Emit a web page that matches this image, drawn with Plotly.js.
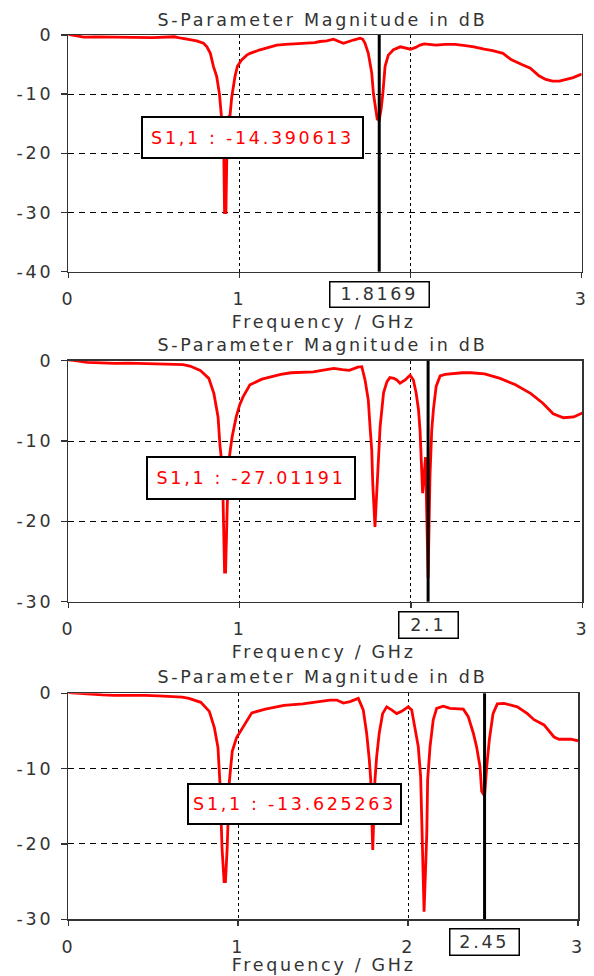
<!DOCTYPE html>
<html><head><meta charset="utf-8">
<script src="https://cdn.plot.ly/plotly-3.0.1.min.js"></script>
<style>
html,body{margin:0;padding:0;background:#fff;}
#chart{width:594px;height:976px;}
#chart svg text{letter-spacing:2.7px;}
</style></head><body><div id="chart"></div>
<script>
// ---- data ----
const freq1 = [0,0.03,0.09,0.17,0.27,0.38,0.49,0.56,0.62,0.66,0.71,0.75,0.79,0.81,0.83,0.848,0.867,0.883,0.895,0.906,0.913,0.921,0.93,0.945,0.955,0.974,0.988,1.013,1.043,1.062,1.12,1.17,1.218,1.27,1.315,1.393,1.44,1.471,1.51,1.549,1.607,1.666,1.705,1.72,1.734,1.753,1.773,1.783,1.793,1.805,1.8169,1.828,1.838,1.851,1.87,1.9,1.94,1.97,2.0,2.03,2.055,2.08,2.15,2.2,2.26,2.32,2.37,2.43,2.48,2.54,2.59,2.65,2.7,2.75,2.79,2.83,2.87,2.91,2.95,3.0];
const s11_1 = [0.1,-0.05,-0.35,-0.3,-0.3,-0.4,-0.45,-0.35,-0.3,-0.55,-0.8,-1.0,-1.4,-2.0,-3.1,-5.3,-7.0,-9.9,-13.8,-14.0,-30,-30,-14,-13.6,-10.5,-7.0,-5.3,-4.2,-3.4,-3.1,-2.5,-2.1,-1.7,-1.6,-1.5,-1.3,-1.3,-1.1,-1.0,-0.7,-1.4,-0.85,-0.55,-0.7,-1.4,-3.1,-6.4,-9.9,-12.2,-14.2,-14.390613,-12.5,-9.9,-5.3,-3.4,-2.5,-2.0,-2.2,-2.4,-2.1,-1.7,-1.5,-1.7,-1.6,-1.6,-1.8,-2.0,-2.4,-2.65,-3.1,-4.2,-5.0,-5.6,-6.9,-7.5,-7.8,-7.8,-7.5,-7.2,-6.6];

const freq2 = [0,0.03,0.11,0.2,0.27,0.35,0.44,0.53,0.62,0.67,0.71,0.77,0.82,0.85,0.874,0.885,0.895,0.903,0.912,0.918,0.928,0.94,0.956,0.98,1.0,1.02,1.06,1.13,1.18,1.24,1.3,1.37,1.43,1.48,1.55,1.6,1.64,1.69,1.713,1.732,1.751,1.761,1.771,1.777,1.79,1.808,1.82,1.84,1.86,1.877,1.9,1.917,1.936,1.966,1.995,2.014,2.03,2.044,2.053,2.068,2.085,2.1,2.111,2.121,2.131,2.147,2.17,2.2,2.25,2.3,2.35,2.43,2.52,2.61,2.7,2.77,2.83,2.89,2.95,3.0];
const s11_2 = [0.1,0.05,-0.2,-0.3,-0.33,-0.3,-0.33,-0.4,-0.45,-0.5,-0.66,-1.2,-2.2,-4.1,-7.0,-10.5,-12.5,-17.0,-26.3,-26.3,-17.8,-12.0,-9.5,-7.0,-5.5,-4.5,-3.0,-2.3,-2.0,-1.7,-1.5,-1.4,-1.4,-1.2,-0.95,-1.1,-1.2,-0.8,-0.75,-2.4,-4.9,-8.2,-11.1,-15.3,-20.7,-13.2,-8.2,-4.0,-2.6,-2.1,-2.2,-2.4,-2.8,-2.4,-1.8,-2.4,-4.0,-6.1,-8.7,-16.5,-12.0,-27.01191,-14.4,-8.7,-6.1,-3.2,-1.9,-1.7,-1.6,-1.5,-1.5,-1.65,-2.2,-3.0,-4.1,-5.3,-6.6,-7.1,-7.0,-6.5];

const freq3 = [0,0.03,0.11,0.2,0.27,0.36,0.45,0.53,0.62,0.67,0.71,0.78,0.83,0.86,0.881,0.892,0.905,0.917,0.925,0.935,0.948,0.965,0.99,1.03,1.08,1.16,1.27,1.38,1.49,1.54,1.58,1.619,1.658,1.707,1.736,1.756,1.772,1.78,1.792,1.805,1.815,1.83,1.85,1.874,1.903,1.933,1.962,2.001,2.021,2.04,2.06,2.074,2.082,2.094,2.11,2.115,2.129,2.148,2.168,2.207,2.247,2.325,2.354,2.384,2.403,2.423,2.433,2.45,2.463,2.478,2.5,2.525,2.564,2.643,2.702,2.741,2.8,2.859,2.888,2.957,3.0];
const s11_3 = [0.1,0.05,-0.13,-0.2,-0.27,-0.25,-0.27,-0.35,-0.45,-0.5,-0.67,-1.2,-2.4,-4.6,-7.2,-11.7,-20.6,-25.0,-25.0,-20.6,-11.7,-7.7,-5.9,-4.4,-2.6,-2.1,-1.6,-1.4,-1.1,-0.9,-0.9,-1.3,-1.1,-0.67,-2.2,-5.3,-8.9,-11.5,-20.8,-11.5,-8.4,-5.3,-2.7,-1.8,-2.2,-2.7,-2.4,-1.8,-2.2,-4.4,-7.1,-11.1,-17.5,-29.0,-18.6,-11.5,-7.1,-3.5,-2.0,-1.7,-2.0,-2.1,-3.1,-5.3,-7.1,-9.7,-13.0,-13.625263,-9.7,-6.2,-2.7,-1.4,-1.33,-1.8,-2.7,-3.5,-4.2,-5.8,-6.1,-6.1,-6.3];

const markerFreqs = [1.8169, 2.1, 2.45];
const markerFreqLabels = ['1.8169', '2.1', '2.45'];
const markerReadouts = ['S1,1 : -14.390613', 'S1,1 : -27.01191', 'S1,1 : -13.625263'];
const xTickVals = [0, 1, 2, 3];
const xTickText12 = ['0', '1', '', '3'];
const xTickText3 = ['0', '1', '2', '3'];
const yTickVals1 = [0, -10, -20, -30, -40];
const yTickText1 = ['0', '-10', '-20', '-30', '-40'];
const yTickVals23 = [0, -10, -20, -30];
const yTickText23 = ['0', '-10', '-20', '-30'];
const chartTitle = 'S-Parameter Magnitude in dB';
const xTitle = 'Frequency / GHz';

// ---- styling ----
const W = 594, H = 976;
const FONT = 'DejaVu Sans, Verdana, sans-serif';
const TXT = '#333';
const FS = 17.5;
const px = v => v / W;
const py = v => 1 - v / H;

function xAxis(domain, anchor, ticktext) {
  return {domain: domain, anchor: anchor, range: [0, 3], tickvals: xTickVals, ticktext: ticktext,
    showgrid: true, gridcolor: '#000', gridwidth: 1, griddash: '3px,3px', zeroline: false,
    showline: true, mirror: true, linecolor: '#333', linewidth: 1.5,
    ticks: 'outside', ticklen: 5, tickwidth: 1.5, tickcolor: '#333', ticklabelstandoff: 6,
    tickfont: {family: FONT, size: FS, color: TXT}, fixedrange: true, automargin: false};
}
function yAxis(domain, anchor, range, vals, text) {
  return {domain: domain, anchor: anchor, range: range, tickvals: vals, ticktext: text,
    showgrid: true, gridcolor: '#000', gridwidth: 1, griddash: '6px,5px', zeroline: false,
    showline: true, mirror: true, linecolor: '#333', linewidth: 1.5,
    ticks: 'outside', ticklen: 6, tickwidth: 1.5, tickcolor: '#333', ticklabelstandoff: 4,
    tickfont: {family: FONT, size: FS, color: TXT}, fixedrange: true, automargin: false};
}

const panels = [
  {xd: [px(68.3), px(581.7)], yd: [py(271.7), py(35)], title: 20, xt: 322, boxC: [252.5, 137.5], boxWH: [221, 41], mY: 294.5, mW: [99, 25]},
  {xd: [px(68.3), px(582.3)], yd: [py(601.7), py(360.7)], title: 345, xt: 652, boxC: [251, 478], boxWH: [208, 42], mY: 625, mW: [59, 26]},
  {xd: [px(68.3), px(578)], yd: [py(919.3), py(693.3)], title: 677, xt: 965, boxC: [294, 804], boxWH: [213, 40], mY: 942, mW: [69, 26]}
];

const series = [[freq1, s11_1], [freq2, s11_2], [freq3, s11_3]];
const data = series.map((s, i) => ({
  x: s[0], y: s[1], type: 'scatter', mode: 'lines',
  xaxis: i === 0 ? 'x' : 'x' + (i + 1), yaxis: i === 0 ? 'y' : 'y' + (i + 1),
  line: {color: '#ff0000', width: 2.8}, hoverinfo: 'skip', showlegend: false
}));

const layout = {
  width: W, height: H, margin: {l: 0, r: 0, t: 0, b: 0},
  paper_bgcolor: '#fff', plot_bgcolor: '#fff', showlegend: false,
  font: {family: FONT, size: FS, color: TXT},
  xaxis: xAxis(panels[0].xd, 'y', xTickText12),
  yaxis: yAxis(panels[0].yd, 'x', [-40, 0], yTickVals1, yTickText1),
  xaxis2: xAxis(panels[1].xd, 'y2', xTickText12),
  yaxis2: yAxis(panels[1].yd, 'x2', [-30, 0], yTickVals23, yTickText23),
  xaxis3: xAxis(panels[2].xd, 'y3', xTickText3),
  yaxis3: yAxis(panels[2].yd, 'x3', [-30, 0], yTickVals23, yTickText23),
  shapes: [], annotations: []
};

panels.forEach((p, i) => {
  const xr = i === 0 ? 'x' : 'x' + (i + 1);
  const yr = i === 0 ? 'y' : 'y' + (i + 1);
  layout.shapes.push({type: 'line', xref: xr, yref: yr + ' domain', x0: markerFreqs[i], x1: markerFreqs[i], y0: 0, y1: 1,
    line: {color: '#000', width: 3}, layer: 'above'});
  layout.annotations.push({text: chartTitle, xref: 'paper', yref: 'paper', x: px(322), y: py(p.title),
    xanchor: 'center', yanchor: 'middle', showarrow: false, font: {family: FONT, size: FS, color: TXT}});
  layout.annotations.push({text: xTitle, xref: 'paper', yref: 'paper', x: px(323), y: py(p.xt),
    xanchor: 'center', yanchor: 'middle', showarrow: false, font: {family: FONT, size: FS, color: TXT}});
  layout.annotations.push({text: markerReadouts[i], xref: 'paper', yref: 'paper', x: px(p.boxC[0]), y: py(p.boxC[1]),
    xanchor: 'center', yanchor: 'middle', showarrow: false, font: {family: FONT, size: FS, color: '#ff0000'},
    bordercolor: '#000', borderwidth: 2, borderpad: 2, bgcolor: '#fff',
    width: p.boxWH[0] - 6, height: p.boxWH[1] - 6, align: 'center', valign: 'middle'});
  layout.annotations.push({text: markerFreqLabels[i], xref: xr, yref: 'paper', x: markerFreqs[i], y: py(p.mY),
    xanchor: 'center', yanchor: 'middle', showarrow: false, font: {family: FONT, size: FS, color: TXT},
    bordercolor: '#000', borderwidth: 1.5, borderpad: 1, bgcolor: '#fff',
    width: p.mW[0] - 3.5, height: p.mW[1] - 3.5, align: 'center', valign: 'middle'});
});

Plotly.newPlot('chart', data, layout, {staticPlot: true, displayModeBar: false});
</script></body></html>
